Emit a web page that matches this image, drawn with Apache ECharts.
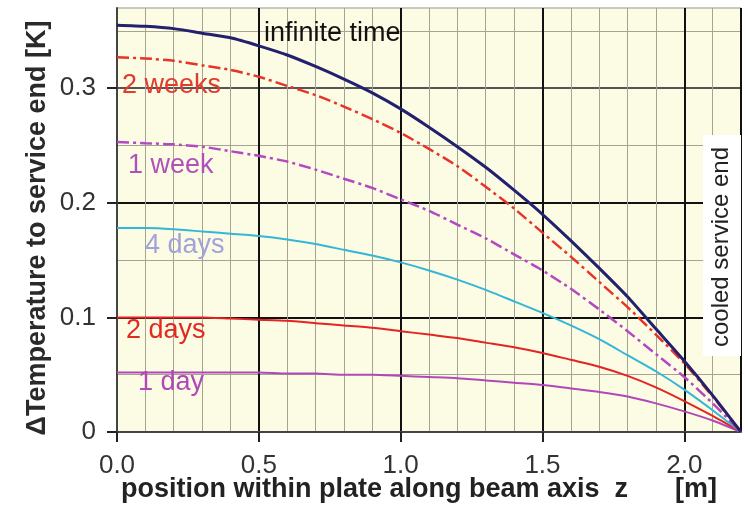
<!DOCTYPE html>
<html>
<head>
    <meta charset="utf-8">
    <title>service end temperature</title>
    <script src="https://cdn.jsdelivr.net/npm/echarts@6/dist/echarts.min.js"></script>
    <style>
        html, body {margin: 0; padding: 0; background: #fff;}
        #chart {width: 748px; height: 507px;}
    </style>
</head>
<body>
<div id="chart"></div>
<script>
    // position along beam axis z [m]
    var zPos = ['0.0', '0.1', '0.2', '0.3', '0.4', '0.5', '0.6', '0.7', '0.8', '0.9', '1.0',
        '1.1', '1.2', '1.3', '1.4', '1.5', '1.6', '1.7', '1.8', '1.9', '2.0', '2.1', '2.2'];

    // temperature to service end [K]
    var infiniteTime = [0.355, 0.354, 0.352, 0.348, 0.344, 0.337, 0.329, 0.319, 0.308, 0.296, 0.282,
        0.266, 0.249, 0.231, 0.211, 0.190, 0.167, 0.143, 0.118, 0.090, 0.062, 0.032, 0];
    var twoWeeks = [0.327, 0.326, 0.324, 0.320, 0.316, 0.310, 0.302, 0.294, 0.284, 0.273, 0.261,
        0.247, 0.232, 0.214, 0.195, 0.174, 0.153, 0.131, 0.109, 0.085, 0.060, 0.031, 0];
    var oneWeek = [0.253, 0.252, 0.251, 0.249, 0.245, 0.241, 0.236, 0.229, 0.221, 0.213, 0.203,
        0.193, 0.181, 0.169, 0.155, 0.141, 0.125, 0.107, 0.088, 0.068, 0.048, 0.025, 0];
    var fourDays = [0.178, 0.178, 0.177, 0.175, 0.173, 0.171, 0.168, 0.164, 0.159, 0.154, 0.148,
        0.141, 0.133, 0.124, 0.114, 0.104, 0.093, 0.081, 0.067, 0.053, 0.037, 0.019, 0];
    var twoDays = [0.100, 0.100, 0.100, 0.100, 0.099, 0.098, 0.097, 0.095, 0.093, 0.091, 0.088,
        0.085, 0.082, 0.078, 0.074, 0.069, 0.063, 0.057, 0.049, 0.039, 0.027, 0.014, 0];
    var oneDay = [0.052, 0.052, 0.052, 0.052, 0.052, 0.052, 0.051, 0.051, 0.050, 0.050, 0.049,
        0.048, 0.047, 0.045, 0.043, 0.041, 0.038, 0.035, 0.031, 0.025, 0.018, 0.010, 0];

    var yTicks = ['0', '0.1', '0.2', '0.3'];
    var xTicks = ['0.0', '0.5', '1.0', '1.5', '2.0'];

    function pairs(vals) {
        return vals.map(function (v, i) {
            return [parseFloat(zPos[i]), v];
        });
    }

    function curve(name, vals, color, dash, width) {
        return {
            name: name,
            type: 'line',
            xAxisIndex: 1,
            yAxisIndex: 1,
            smooth: 0.2,
            symbol: 'none',
            data: pairs(vals),
            lineStyle: {color: color, width: width || 2, type: dash || 'solid'}
        };
    }

    function label(text, x, y, color) {
        return {
            type: 'text', x: x, y: y, z: 5,
            style: {text: text, fontSize: 27, fill: color, fontFamily: font, verticalAlign: 'middle'}
        };
    }

    var font = 'Liberation Sans, Arial, sans-serif';
    var chart = echarts.init(document.getElementById('chart'));

    var option = {
        animation: false,
        backgroundColor: '#fff',
        textStyle: {fontFamily: font},
        grid: {
            left: 117, right: 7, top: 8, bottom: 75,
            outerBoundsMode: 'none',
            show: true,
            backgroundColor: '#fcfbe3',
            borderColor: '#c8c8c0',
            borderWidth: 1
        },
        xAxis: [
            {
                // fine grid, 0.1 m
                type: 'value', min: 0, max: 2.2, interval: 0.1,
                axisLine: {show: false}, axisTick: {show: false}, axisLabel: {show: false},
                splitLine: {lineStyle: {color: '#a4a490', width: 1}}
            },
            {
                type: 'value', min: 0, max: 2.2, interval: 0.5, position: 'bottom',
                axisLine: {show: true, onZero: false, lineStyle: {color: '#444', width: 2}},
                axisTick: {show: true, inside: false, length: 10, lineStyle: {color: '#222', width: 2}},
                axisLabel: {
                    show: true, margin: 21, fontSize: 26, color: '#333', showMaxLabel: false,
                    formatter: function (v) {
                        var s = v.toFixed(1);
                        return xTicks.indexOf(s) >= 0 ? s : '';
                    }
                },
                splitLine: {show: true, lineStyle: {color: '#111', width: 2}}
            }
        ],
        yAxis: [
            {
                // fine grid, 0.05 K
                type: 'value', min: 0, max: 0.37, interval: 0.05,
                axisLine: {show: false}, axisTick: {show: false}, axisLabel: {show: false},
                splitLine: {lineStyle: {color: '#a4a490', width: 1}}
            },
            {
                type: 'value', min: 0, max: 0.37, interval: 0.1, position: 'left',
                axisLine: {show: true, onZero: false, lineStyle: {color: '#444', width: 2}},
                axisTick: {show: true, length: 10, lineStyle: {color: '#222', width: 2}},
                axisLabel: {
                    margin: 21, fontSize: 26, color: '#333', showMaxLabel: false,
                    formatter: function (v) {
                        var s = v === 0 ? '0' : v.toFixed(1);
                        return yTicks.indexOf(s) >= 0 ? s : '';
                    }
                },
                splitLine: {
                    show: true,
                    lineStyle: {color: ['#111', '#111', '#111', '#555', '#c8c8c0'], width: 2}
                }
            }
        ],
        series: [
            curve('1 day', oneDay, '#b248b8'),
            curve('2 days', twoDays, '#e22424'),
            curve('4 days', fourDays, '#34b6d8'),
            curve('1 week', oneWeek, '#b448c4', [12, 4, 3, 4], 2.5),
            curve('2 weeks', twoWeeks, '#e8322a', [12, 4, 3, 4], 2.5),
            curve('infinite time', infiniteTime, '#23216e', null, 3)
        ],
        graphic: [
            label('infinite time', 264, 34, '#111'),
            label('2 weeks', 122, 86, '#e33a2e'),
            label('1 week', 128, 166, '#b050b8'),
            label('4 days', 145, 246, '#a2a2dc'),
            label('2 days', 126, 331, '#e22a22'),
            label('1 day', 138, 383, '#b048b8'),
            // box at the cooled end
            {type: 'rect', shape: {x: 703, y: 135, width: 38, height: 221}, style: {fill: '#fff'}, z: 10},
            {
                type: 'text', x: 721, y: 247, rotation: Math.PI / 2, z: 11,
                style: {text: 'cooled service end', fontSize: 24, fill: '#222', fontFamily: font,
                    align: 'center', verticalAlign: 'middle'}
            },
            // axis titles
            {
                type: 'text', x: 38, y: 228, rotation: Math.PI / 2,
                style: {text: 'ΔTemperature to service end [K]', fontSize: 27, fontWeight: 'bold',
                    fill: '#2a2a2a', fontFamily: font, align: 'center', verticalAlign: 'middle'}
            },
            {
                type: 'text', x: 121, y: 490,
                style: {text: 'position within plate along beam axis  z', fontSize: 27, fontWeight: 'bold',
                    fill: '#222', fontFamily: font, verticalAlign: 'middle'}
            },
            {
                type: 'text', x: 675, y: 490,
                style: {text: '[m]', fontSize: 27, fontWeight: 'bold', fill: '#222', fontFamily: font, verticalAlign: 'middle'}
            }
        ]
    };
    chart.setOption(option);
</script>
</body>
</html>
